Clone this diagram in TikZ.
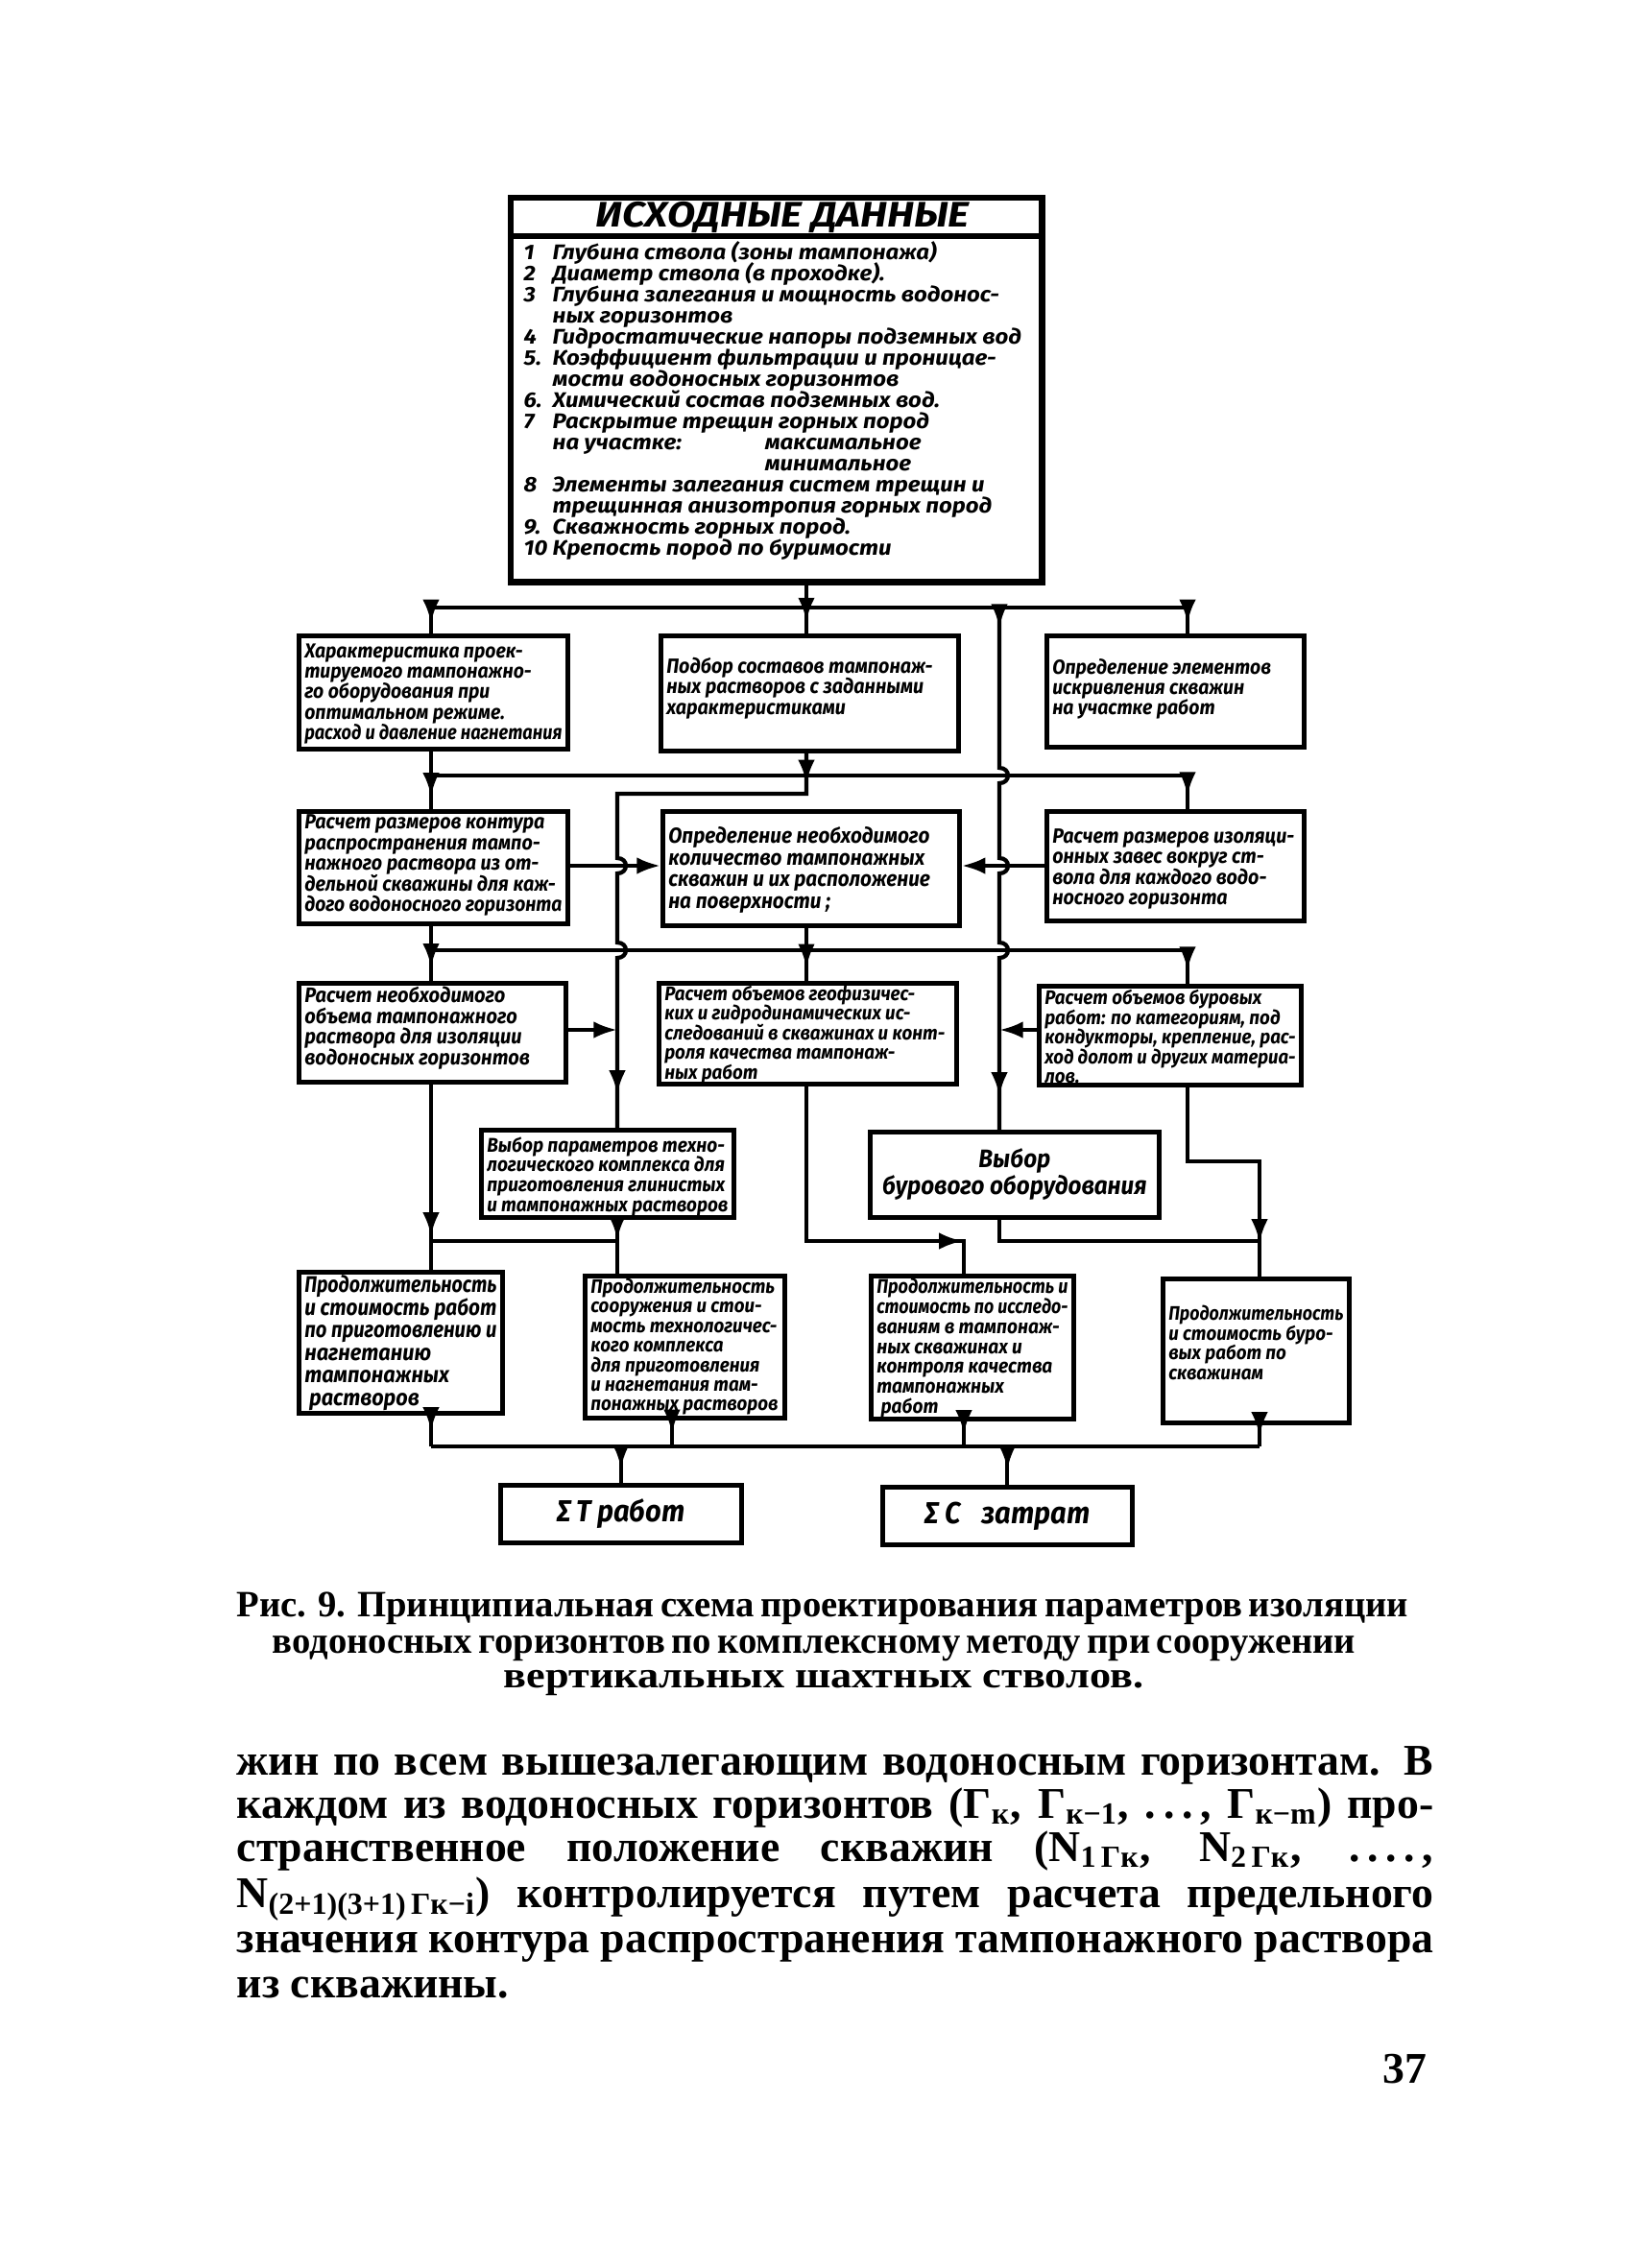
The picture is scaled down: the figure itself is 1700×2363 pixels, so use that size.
\documentclass[tikz,border=0pt]{standalone}
\usepackage{fontspec}
\usepackage{graphicx}
\usetikzlibrary{arrows.meta,decorations.markings}
\newfontfamily\hand{Fira Sans}[FakeStretch=0.92]
\newfontfamily\handn{Fira Sans}[FakeStretch=1.09]
\newfontfamily\handw{Fira Sans}[FakeStretch=1.15]
\newfontfamily\serif{Liberation Serif}
\setlength{\lineskiplimit}{-30pt}
\newcommand{\tightlines}{\setlength{\lineskiplimit}{-30pt}}
\newsavebox\flbox
\newcommand{\fl}[1]{\sbox\flbox{#1}\ifdim\wd\flbox>\linewidth\resizebox{\linewidth}{\height}{#1}\else\usebox\flbox\fi}
\newcommand{\tx}[5]{\parbox[c][#2][t]{#1}{\vspace*{#3}\raggedright\tightlines\hand\bfseries\itshape\fontsize{#4}{#4}\selectfont #5}}
\begin{document}
\begin{tikzpicture}[x=0.01cm,y=-0.01cm,
  ln/.style={line width=1.2pt},
  bx/.style={draw, line width=1.3pt, inner xsep=0.06cm, inner ysep=0pt, anchor=north west},
  arrat/.style={postaction={decorate, decoration={markings, mark=at position #1 with {\arrow{Latex[length=7pt,width=5pt]}}}}},
  tip/.style={-{Latex[length=7pt,width=5pt]}}]
\fill[white] (0,0) rectangle (1700,2363);
\useasboundingbox (0,0) rectangle (1700,2363);

% ---------- top box ----------
\node[bx, line width=1.8pt, minimum width=5.53cm, minimum height=4.00cm] (top) at (529,203) {};
\coordinate (sep) at (0,246);
\draw[line width=1.5pt] (top.west |- sep) -- (top.east |- sep);
\node[font=\handw\bfseries\itshape\fontsize{10.5pt}{12pt}\selectfont] (title) at (815,226) {ИСХОДНЫЕ ДАННЫЕ};
\node[anchor=north west, inner sep=0pt, align=left, font=\tightlines\handn\bfseries\itshape\fontsize{6.26pt}{6.26pt}\selectfont] (list) at (545,251) {%
\makebox[0.30cm][l]{1}Глубина ствола (зоны тампонажа)\\
\makebox[0.30cm][l]{2}Диаметр ствола (в проходке).\\
\makebox[0.30cm][l]{3}Глубина залегания и мощность водонос-\\
\hspace*{0.30cm}ных горизонтов\\
\makebox[0.30cm][l]{4}Гидростатические напоры подземных вод\\
\makebox[0.30cm][l]{5.}Коэффициент фильтрации и проницае-\\
\hspace*{0.30cm}мости водоносных горизонтов\\
\makebox[0.30cm][l]{6.}Химический состав подземных вод.\\
\makebox[0.30cm][l]{7}Раскрытие трещин горных пород\\
\hspace*{0.30cm}\makebox[2.21cm][l]{на участке:}максимальное\\
\hspace*{2.51cm}минимальное\\
\makebox[0.30cm][l]{8}Элементы залегания систем трещин и\\
\hspace*{0.30cm}трещинная анизотропия горных пород\\
\makebox[0.30cm][l]{9.}Скважность горных пород.\\
\makebox[0.30cm][l]{10}Крепость пород по буримости};

% ---------- row 1 ----------
\node[bx] (L1) at (309,660) {\tx{2.68cm}{1.18cm}{2.5pt}{6.0pt}{\fl{Характеристика проек-}\\\fl{тируемого тампонажно-}\\\fl{го оборудования при}\\\fl{оптимальном режиме.}\\\fl{расход и давление нагнетания}}};
\node[bx] (M1) at (686,660) {\tx{2.98cm}{1.20cm}{6.5pt}{6.1pt}{\fl{Подбор составов тампонаж-}\\\fl{ных растворов с заданными}\\\fl{характеристиками}}};
\node[bx] (R1) at (1088,660) {\tx{2.56cm}{1.16cm}{6.8pt}{6.0pt}{\fl{Определение элементов}\\\fl{искривления скважин}\\\fl{на участке работ}}};

% ---------- row 2 ----------
\node[bx] (L2) at (309,843) {\tx{2.68cm}{1.17cm}{1pt}{6.1pt}{\fl{Расчет размеров контура}\\\fl{распространения тампо-}\\\fl{нажного раствора из от-}\\\fl{дельной скважины для каж-}\\\fl{дого водоносного горизонта}}};
\node[bx] (M2) at (688,843) {\tx{2.97cm}{1.19cm}{4.6pt}{6.4pt}{\fl{Определение необходимого}\\\fl{количество тампонажных}\\\fl{скважин и их расположение}\\\fl{на поверхности ;}}};
\node[bx] (R2) at (1088,843) {\tx{2.56cm}{1.14cm}{5.1pt}{6.1pt}{\fl{Расчет размеров изоляци-}\\\fl{онных завес вокруг ст-}\\\fl{вола для каждого водо-}\\\fl{носного горизонта}}};

% ---------- row 3 ----------
\node[bx] (L3) at (309,1022) {\tx{2.66cm}{1.03cm}{1pt}{6.2pt}{\fl{Расчет необходимого}\\\fl{объема тампонажного}\\\fl{раствора для изоляции}\\\fl{водоносных горизонтов}}};
\node[bx] (M3) at (684,1022) {\tx{2.98cm}{1.05cm}{0.8pt}{5.8pt}{\fl{Расчет объемов геофизичес-}\\\fl{ких и гидродинамических ис-}\\\fl{следований в скважинах и конт-}\\\fl{роля качества тампонаж-}\\\fl{ных работ}}};
\node[bx] (R3) at (1080,1025) {\tx{2.61cm}{1.03cm}{1.2pt}{5.8pt}{\fl{Расчет объемов буровых}\\\fl{работ: по категориям, под}\\\fl{кондукторы, крепление, рас-}\\\fl{ход долот и других материа-}\\\fl{лов.}}};

% ---------- row 4 ----------
\node[bx] (P) at (499,1175) {\tx{2.51cm}{0.91cm}{2pt}{5.9pt}{\fl{Выбор параметров техно-}\\\fl{логического комплекса для}\\\fl{приготовления глинистых}\\\fl{и тампонажных растворов}}};
\node[bx, minimum width=3.01cm, minimum height=0.89cm, align=center, font=\hand\bfseries\itshape\fontsize{7.5pt}{8pt}\selectfont] (B) at (904,1177) {Выбор\\бурового оборудования};

% ---------- row 5 ----------
\node[bx] (A) at (309,1323) {\tx{2.00cm}{1.47cm}{1pt}{6.7pt}{\fl{Продолжительность}\\\fl{и стоимость работ}\\\fl{по приготовлению и}\\\fl{нагнетанию}\\\fl{тампонажных}\\\fl{\ растворов}}};
\node[bx] (T2) at (607,1327) {\tx{1.96cm}{1.48cm}{0.8pt}{5.8pt}{\fl{Продолжительность}\\\fl{сооружения и стои-}\\\fl{мость технологичес-}\\\fl{кого комплекса}\\\fl{для приготовления}\\\fl{и нагнетания там-}\\\fl{понажных растворов}}};
\node[bx] (C) at (905,1327) {\tx{1.99cm}{1.49cm}{0.8pt}{5.9pt}{\fl{Продолжительность и}\\\fl{стоимость по исследо-}\\\fl{ваниям в тампонаж-}\\\fl{ных скважинах и}\\\fl{контроля качества}\\\fl{тампонажных}\\\fl{\ работ}}};
\node[bx] (D) at (1209,1330) {\tx{1.82cm}{1.50cm}{8pt}{5.8pt}{\fl{Продолжительность}\\\fl{и стоимость буро-}\\\fl{вых работ по}\\\fl{скважинам}}};

% ---------- totals ----------
\node[bx, minimum width=2.51cm, minimum height=0.60cm, font=\hand\bfseries\itshape\fontsize{9pt}{10pt}\selectfont] (ST) at (519,1545) {Σ\,T работ};
\node[bx, minimum width=2.60cm, minimum height=0.60cm, font=\hand\bfseries\itshape\fontsize{9pt}{10pt}\selectfont] (SC) at (917,1547) {Σ C\hspace{0.7em}затрат};

% ---------- helper coordinates ----------
\coordinate (b1) at (0,633);
\coordinate (b2) at (0,808);
\coordinate (j1) at (0,827);
\coordinate (hA) at (0,902);
\coordinate (b3) at (0,990);
\coordinate (hB) at (0,1073);
\coordinate (j2) at (0,1210);
\coordinate (b4) at (0,1293);
\coordinate (b5) at (0,1507);
\coordinate (xL) at (449,0);
\coordinate (xM) at (840,0);
\coordinate (xJ) at (643,0);
\coordinate (xK) at (1041,0);
\coordinate (xR) at (1237,0);
\coordinate (xC) at (1004,0);
\coordinate (xD) at (1312,0);
\coordinate (xT) at (700,0);

% ---------- connectors ----------
\draw[ln, arrat=0.75] (xM |- top.south) -- (xM |- M1.north);
\draw[ln] (xL |- b1) -- (xR |- b1);
\draw[ln, arrat=0.6] (xL |- b1) -- (xL |- L1.north);
\draw[ln, arrat=0.6] (xR |- b1) -- (xR |- R1.north);
\draw[ln, arrat=6pt, arrat=-10pt] (xK |- b1) -- (1041,800) .. controls (1053,800) and (1053,816) .. (1041,816)
   -- (1041,894) .. controls (1053,894) and (1053,910) .. (1041,910)
   -- (1041,982) .. controls (1053,982) and (1053,998) .. (1041,998) -- (xK |- B.north);

\draw[ln, arrat=0.78] (xL |- L1.south) -- (xL |- L2.north);
\draw[ln] (xL |- b2) -- (xR |- b2);
\draw[ln, arrat=0.6] (xR |- b2) -- (xR |- R2.north);
\draw[ln, arrat=9pt, arrat=-10pt] (xM |- M1.south) -- (xM |- j1) -- (xJ |- j1)
   -- (643,894) .. controls (655,894) and (655,910) .. (643,910)
   -- (643,982) .. controls (655,982) and (655,998) .. (643,998) -- (xJ |- P.north);

\draw[ln, tip] (L2.east |- hA) -- (M2.west |- hA);
\draw[ln, tip] (R2.west |- hA) -- (M2.east |- hA);

\draw[ln, arrat=0.75] (xL |- L2.south) -- (xL |- L3.north);
\draw[ln, arrat=0.75] (xM |- M2.south) -- (xM |- M3.north);
\draw[ln] (xL |- b3) -- (xR |- b3);
\draw[ln, arrat=0.6] (xR |- b3) -- (xR |- R3.north);

\draw[ln, tip] (L3.east |- hB) -- (xJ |- hB);
\draw[ln, tip] (R3.west |- hB) -- (xK |- hB);

\draw[ln, arrat=-10pt] (xL |- L3.south) -- (xL |- A.north);
\draw[ln, arrat=-10pt] (xJ |- P.south) -- (xJ |- T2.north);
\draw[ln] (xJ |- b4) -- (xL |- b4);
\draw[ln, arrat=-10pt] (xM |- M3.south) -- (xM |- b4) -- (xC |- b4) -- (xC |- C.north);
\draw[ln] (xK |- B.south) -- (xK |- b4) -- (xD |- b4);
\draw[ln, arrat=-10pt] (xR |- R3.south) -- (xR |- j2) -- (xD |- j2) -- (xD |- D.north);

\draw[ln, arrat=0.5] (xL |- A.south) -- (xL |- b5);
\draw[ln, arrat=0.5] (xT |- T2.south) -- (xT |- b5);
\draw[ln, arrat=0.5] (xC |- C.south) -- (xC |- b5);
\draw[ln, arrat=0.5] (xD |- D.south) -- (xD |- b5);
\draw[ln] (xL |- b5) -- (xD |- b5);
\draw[ln, arrat=0.6] (ST.north |- b5) -- (ST.north);
\draw[ln, arrat=0.6] (SC.north |- b5) -- (SC.north);

% ---------- caption ----------
\begin{scope}[every node/.style={anchor=base west, inner sep=0pt, font=\serif\bfseries\fontsize{11pt}{13pt}\selectfont}]
\node (cap1) at (246,1684) {\makebox[12.11cm][s]{Рис. 9. Принципиальная схема проектирования параметров изоляции}};
\node (cap2) at (283,1722) {\makebox[11.19cm][s]{водоносных горизонтов по комплексному методу при сооружении}};
\node (cap3) at (524,1758) {\resizebox{6.66cm}{\height}{вертикальных шахтных стволов.}};
\end{scope}

% ---------- body text ----------
\begin{scope}[every node/.style={anchor=base west, inner sep=0pt, font=\serif\bfseries\fontsize{13pt}{15pt}\selectfont}]
\node (t1) at (246,1849) {\makebox[12.46cm][s]{жин по всем вышезалегающим водоносным горизонтам. В}};
\node (t2) at (246,1894) {\makebox[12.46cm][s]{каждом из водоносных горизонтов (Г\textsubscript{к}, Г\textsubscript{к−1}, .\,.\,.\,, Г\textsubscript{к−m}) про-}};
\node (t3) at (246,1939) {\makebox[12.46cm][s]{странственное положение скважин (N\textsubscript{1\,Гк}, N\textsubscript{2\,Гк}, .\,.\,.\,.\,,}};
\node (t4) at (246,1987) {\makebox[12.46cm][s]{N\textsubscript{(2+1)(3+1)\,Гк−i}) контролируется путем расчета предельного}};
\node (t5) at (246,2034) {\makebox[12.46cm][s]{значения контура распространения тампонажного раствора}};
\node (t6) at (246,2081) {из скважины.};
\node[anchor=base east] (pg) at (1487,2170) {37};
\end{scope}
\end{tikzpicture}
\end{document}
